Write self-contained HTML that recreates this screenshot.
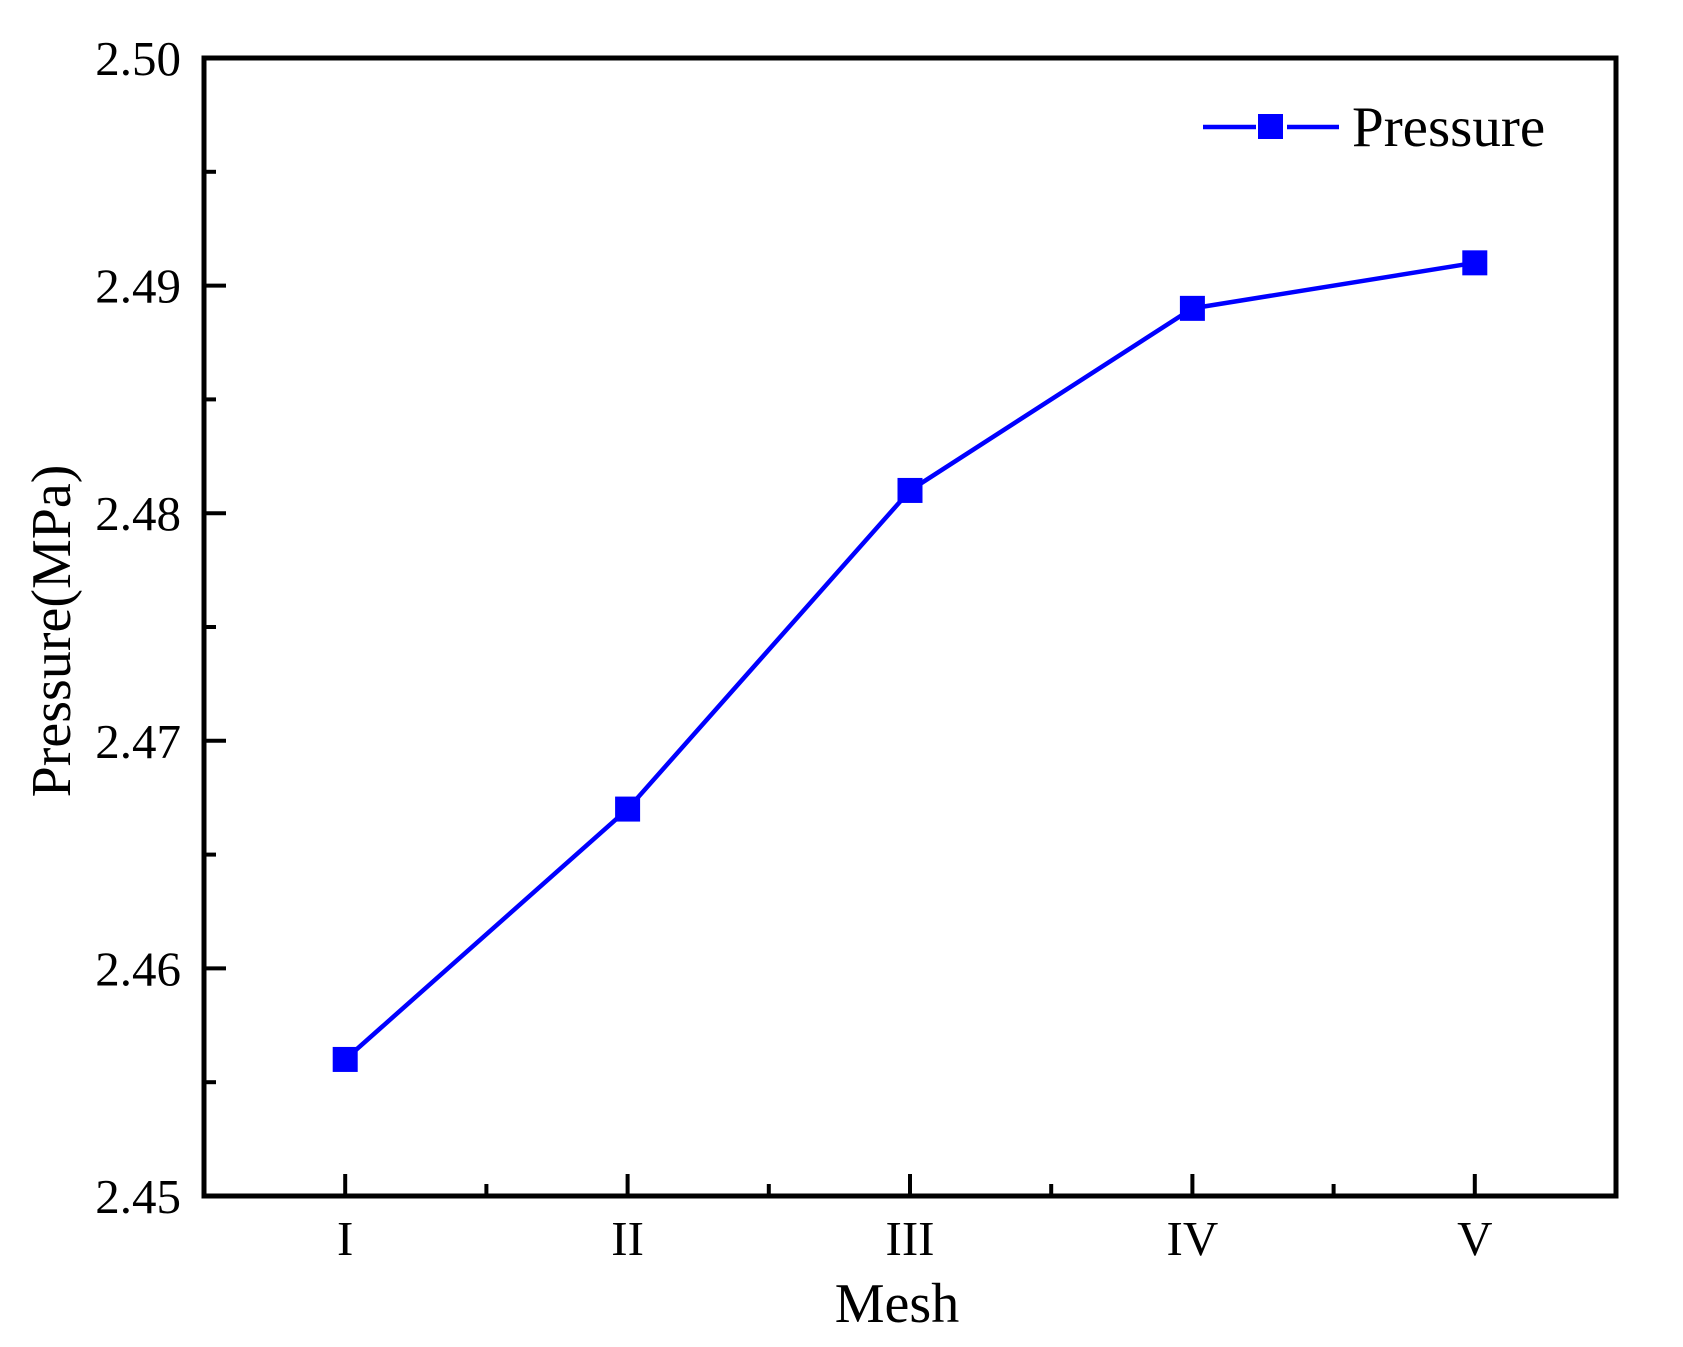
<!DOCTYPE html>
<html><head><meta charset="utf-8"><style>
html,body{margin:0;padding:0;background:#fff;width:1683px;height:1347px;overflow:hidden}
svg{display:block;font-family:"Liberation Serif",serif}
</style></head><body>
<svg id="chart" width="1683" height="1347" viewBox="0 0 1683 1347" xmlns="http://www.w3.org/2000/svg"></svg>
<script>
const categories = ["I","II","III","IV","V"];
const pressureValues = [2.456, 2.467, 2.481, 2.489, 2.491];
const yTickValues = [2.45, 2.46, 2.47, 2.48, 2.49, 2.50];
const yTickLabels = ["2.45","2.46","2.47","2.48","2.49","2.50"];

const L=204, R=1616, T=58, B=1196;
const yMin=2.45, yMax=2.50;
const step=(R-L)/categories.length;
function xScale(i){return L+step*(i+0.5);}
function yScale(v){return B-(v-yMin)/(yMax-yMin)*(B-T);}
const NS="http://www.w3.org/2000/svg";
const svg=document.getElementById('chart');
function mk(tag,attrs,parent){const e=document.createElementNS(NS,tag);for(const k in attrs)e.setAttribute(k,attrs[k]);(parent||svg).appendChild(e);return e;}

// y ticks
yTickValues.forEach((v,i)=>{
  const y=yScale(v);
  const t=mk('line',{x1:L,x2:L+22,y1:y,y2:y,stroke:'#000','stroke-width':4});
  
  
  const lab=mk('text',{x:181,y:y+17,'text-anchor':'end','font-size':49,fill:'#000'});
  lab.textContent=yTickLabels[i];
  
  
  if(i<yTickValues.length-1){
    const ym=yScale(v+(yMax-yMin)/10);
    const m=mk('line',{x1:L,x2:L+12,y1:ym,y2:ym,stroke:'#000','stroke-width':4});
    
    
  }
});
// x ticks
categories.forEach((c,i)=>{
  const x=xScale(i);
  const t=mk('line',{x1:x,x2:x,y1:B,y2:B-22,stroke:'#000','stroke-width':4});
  
  
  const lab=mk('text',{x:x,y:1255,'text-anchor':'middle','font-size':49,fill:'#000'});
  lab.textContent=c;
  
  
  if(i<categories.length-1){
    const xm=x+step/2;
    const m=mk('line',{x1:xm,x2:xm,y1:B,y2:B-12,stroke:'#000','stroke-width':4});
    
    
  }
});
// frame
const fr=mk('rect',{x:L,y:T,width:R-L,height:B-T,fill:'none',stroke:'#000','stroke-width':5});



// series line
const pts=pressureValues.map((v,i)=>xScale(i)+','+yScale(v)).join(' ');
const pl=mk('polyline',{points:pts,fill:'none',stroke:'#0000ff','stroke-width':4.5,'stroke-linejoin':'round'});


pressureValues.forEach((v,i)=>{
  const r=mk('rect',{x:xScale(i)-12.5,y:yScale(v)-12.5,width:25,height:25,fill:'#0000ff'});
  
  
});

// legend
const lg=mk('g',{});


mk('line',{x1:1203,x2:1256,y1:127,y2:127,stroke:'#0000ff','stroke-width':4.5},lg);
mk('line',{x1:1287,x2:1339,y1:127,y2:127,stroke:'#0000ff','stroke-width':4.5},lg);
mk('rect',{x:1258,y:114,width:25,height:25,fill:'#0000ff'},lg);
const lt=mk('text',{x:1352,y:146,'font-size':57,fill:'#000'},lg);
lt.textContent='Pressure';

// axis titles
const xt=mk('text',{x:897,y:1322,'text-anchor':'middle','font-size':56,fill:'#000'});
xt.textContent='Mesh';


const yt=mk('text',{x:0,y:0,'text-anchor':'middle','font-size':56,fill:'#000',transform:'translate(70,631) rotate(-90)'});
yt.textContent='Pressure(MPa)';


</script>
</body></html>
